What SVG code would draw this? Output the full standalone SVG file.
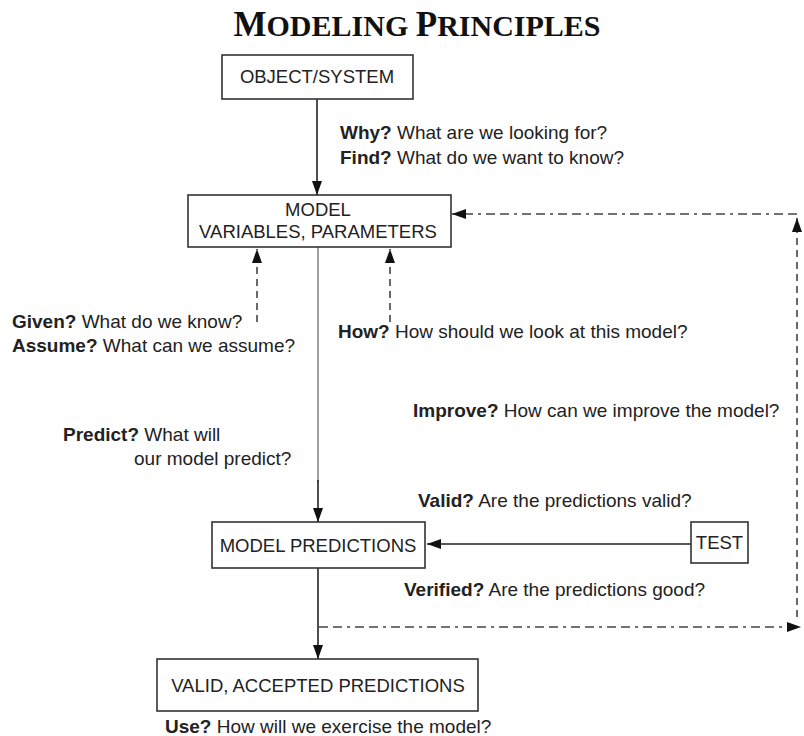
<svg xmlns="http://www.w3.org/2000/svg" width="804" height="736" viewBox="0 0 804 736">
<defs>
<style>
.box{fill:#fff;stroke:#333;stroke-width:1.6}
.t{font-family:"Liberation Sans",Arial,sans-serif;font-size:19px;fill:#222}
.n{font-family:"Liberation Sans",Arial,sans-serif;font-size:18.5px;fill:#222;text-anchor:middle}
.b{font-weight:bold}
.solid{stroke:#222;stroke-width:1.6;fill:none}
.gray{stroke:#888;stroke-width:1.6;fill:none}
.dash{stroke:#444;stroke-width:1.6;fill:none;stroke-dasharray:9 5 9 5 3 5}
.vdash{stroke:#444;stroke-width:1.6;fill:none;stroke-dasharray:7 5}
.title{font-family:"Liberation Serif","Times New Roman",serif;font-weight:bold;fill:#111;text-anchor:middle}
</style>
<marker id="ah" viewBox="0 0 14 10" refX="14" refY="5" markerWidth="14" markerHeight="10" markerUnits="userSpaceOnUse" orient="auto">
<path d="M0,0 L14,5 L0,10 z" fill="#111"/>
</marker>
</defs>
<rect width="804" height="736" fill="#fff"/>
<text class="title" x="417" y="36" font-size="30"><tspan font-size="35">M</tspan>ODELING <tspan font-size="35">P</tspan>RINCIPLES</text>

<g id="connectors">
<line class="solid" x1="317" y1="99" x2="317" y2="195" marker-end="url(#ah)"/>
<line class="gray" x1="318" y1="247" x2="318" y2="482"/>
<line class="solid" x1="318" y1="480" x2="318" y2="522" marker-end="url(#ah)"/>
<line class="vdash" x1="257" y1="322" x2="257" y2="249" marker-end="url(#ah)"/>
<line class="vdash" x1="390" y1="322" x2="390" y2="249" marker-end="url(#ah)"/>
<line class="solid" x1="691" y1="544" x2="427" y2="544" marker-end="url(#ah)"/>
<line class="solid" x1="318" y1="568" x2="318" y2="659" marker-end="url(#ah)"/>
<line class="dash" x1="319" y1="627" x2="801" y2="627" marker-end="url(#ah)"/>
<line class="vdash" x1="797" y1="617" x2="797" y2="218" marker-end="url(#ah)"/>
<line class="dash" x1="797" y1="214" x2="452" y2="214" marker-end="url(#ah)"/>
</g>

<g id="object-system">
<rect class="box" x="222" y="55" width="191" height="44"/>
<text class="n" x="317" y="83">OBJECT/SYSTEM</text>
</g>
<g id="model">
<rect class="box" x="188" y="195" width="263" height="52"/>
<text class="n" x="318" y="216">MODEL</text>
<text class="n" x="318" y="238">VARIABLES, PARAMETERS</text>
</g>
<g id="model-predictions">
<rect class="box" x="212" y="522" width="213" height="46"/>
<text class="n" x="318" y="552">MODEL PREDICTIONS</text>
</g>
<g id="test">
<rect class="box" x="691" y="522" width="57" height="41"/>
<text class="n" x="719.5" y="549">TEST</text>
</g>
<g id="valid-accepted">
<rect class="box" x="157" y="659" width="321" height="52"/>
<text class="n" x="318" y="692">VALID, ACCEPTED PREDICTIONS</text>
</g>

<g id="labels">
<text class="t" x="340" y="139"><tspan class="b">Why?</tspan> What are we looking for?</text>
<text class="t" x="340" y="164"><tspan class="b">Find?</tspan> What do we want to know?</text>
<text class="t" x="12" y="328"><tspan class="b">Given?</tspan> What do we know?</text>
<text class="t" x="12" y="352"><tspan class="b">Assume?</tspan> What can we assume?</text>
<text class="t" x="338" y="338"><tspan class="b">How?</tspan> How should we look at this model?</text>
<text class="t" x="413" y="417"><tspan class="b">Improve?</tspan> How can we improve the model?</text>
<text class="t" x="63" y="441"><tspan class="b">Predict?</tspan> What will</text>
<text class="t" x="134" y="465">our model predict?</text>
<text class="t" x="418" y="507"><tspan class="b">Valid?</tspan> Are the predictions valid?</text>
<text class="t" x="404" y="596"><tspan class="b">Verified?</tspan> Are the predictions good?</text>
<text class="t" x="165" y="733"><tspan class="b">Use?</tspan> How will we exercise the model?</text>
</g>
</svg>
